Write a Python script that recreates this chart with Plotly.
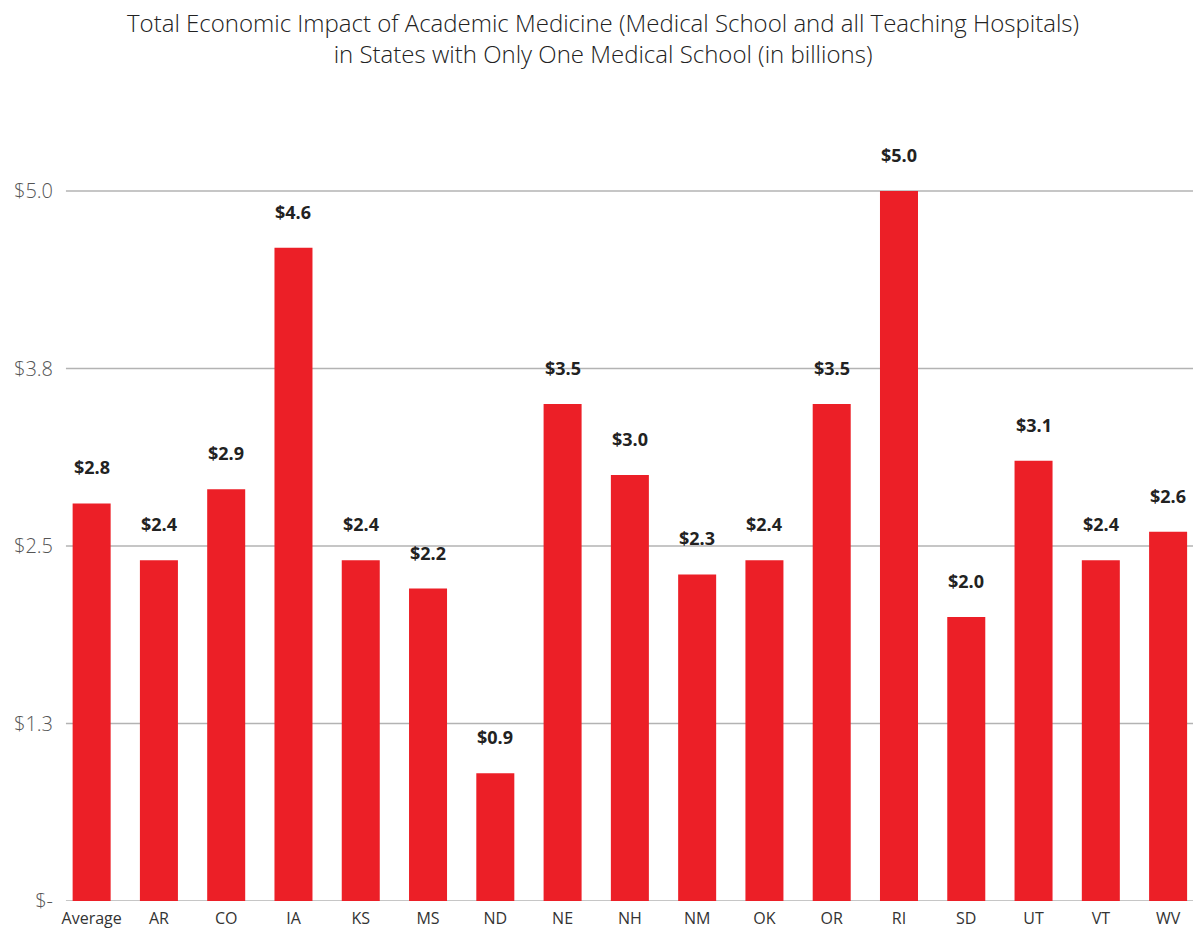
import plotly.graph_objects as go

states = ["Average", "AR", "CO", "IA", "KS", "MS", "ND", "NE", "NH",
          "NM", "OK", "OR", "RI", "SD", "UT", "VT", "WV"]
impact_billions = [2.8, 2.4, 2.9, 4.6, 2.4, 2.2, 0.9, 3.5, 3.0,
                   2.3, 2.4, 3.5, 5.0, 2.0, 3.1, 2.4, 2.6]
tick_values = [0, 1.25, 2.5, 3.75, 5.0]
tick_labels = ["$-", "$1.3", "$2.5", "$3.8", "$5.0"]
title_lines = [
    "Total Economic Impact of Academic Medicine (Medical School and all Teaching Hospitals)",
    "in States with Only One Medical School (in billions)",
]

RED = "#EC1F27"
GRID = "#b3b3b3"

fig = go.Figure()
fig.add_trace(go.Bar(
    x=states,
    y=impact_billions,
    marker=dict(color=RED, line=dict(width=0)),
    hoverinfo="x+y",
))

# value labels above each bar
for s, v in zip(states, impact_billions):
    fig.add_annotation(
        x=s, y=v, text=f"<b>${v:.1f}</b>", showarrow=False,
        yanchor="bottom", yshift=22,
        font=dict(family="Open Sans, sans-serif", size=18, color="#222222"),
    )

# horizontal gridlines
for t in tick_values:
    fig.add_shape(
        type="line", xref="paper", yref="y",
        x0=0.007, x1=1.0, y0=t, y1=t,
        line=dict(color=GRID, width=1.5), layer="below",
    )

# two-line chart title
fig.add_annotation(
    xref="paper", yref="paper", x=0.48, y=1.0, yshift=116,
    xanchor="center", yanchor="top", showarrow=False, align="center",
    text="<br>".join(title_lines),
    font=dict(family="Open Sans, sans-serif", size=24, color="#222222", weight=300),
)

fig.update_layout(
    width=1193, height=930,
    margin=dict(l=58, r=0, t=120, b=29),
    plot_bgcolor="white", paper_bgcolor="white",
    bargap=0.435,
    showlegend=False,
    xaxis=dict(
        range=[-0.5, 16.37],
        showgrid=False, zeroline=False, showline=False,
        ticks="", tickfont=dict(family="Open Sans, sans-serif", size=16, color="#333333"),
        ticklabelstandoff=6,
    ),
    yaxis=dict(
        range=[0, 5.5],
        tickvals=tick_values, ticktext=tick_labels,
        showgrid=False, zeroline=False, showline=False,
        ticks="", tickfont=dict(family="Open Sans, sans-serif", size=20, color="#555555", weight=300),
        ticklabelstandoff=4,
    ),
)

fig.write_html("out.html")
